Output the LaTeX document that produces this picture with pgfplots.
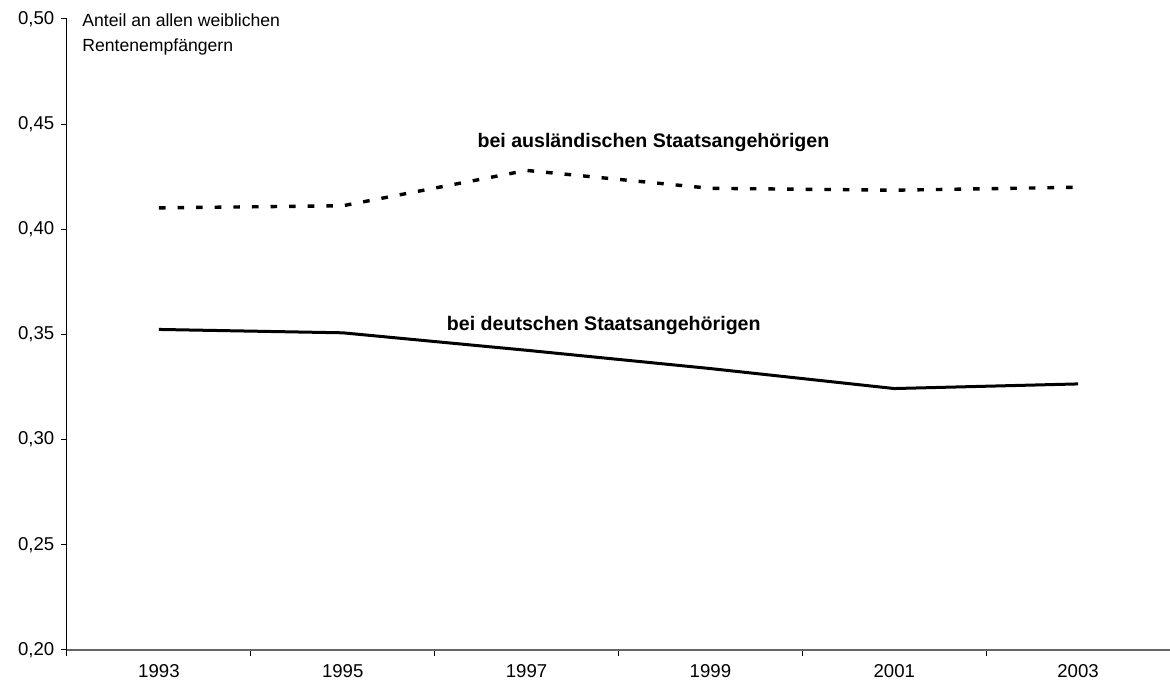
\documentclass[border=0pt]{standalone}
\usepackage{fontspec}
\setmainfont{Liberation Sans}
\usepackage{pgfplots}
\pgfplotsset{compat=1.18}

\begin{document}
\begin{tikzpicture}
\begin{axis}[
  scale only axis,
  width=551.5pt, height=315.5pt,
  xmin=-0.5, xmax=5.5,
  ymin=0.2, ymax=0.5,
  axis x line*=bottom,
  axis y line*=left,
  x axis line style={gray!80!black, line width=0.6pt},
  y axis line style={black, line width=0.5pt},
  xtick={0,...,5},
  xticklabels={1993,1995,1997,1999,2001,2003},
  major x tick style={draw=none},
  minor xtick={-0.5,0.5,...,5.5},
  minor x tick style={black, line width=0.5pt},
  minor tick length=2.8pt,
  ytick={0.2,0.25,...,0.5},
  major tick length=2.8pt,
  y tick style={black, line width=0.5pt},
  tick align=outside,
  ticklabel style={font=\fontsize{9.3}{11}\selectfont},
  yticklabel style={/pgf/number format/.cd, fixed, fixed zerofill, precision=2, use comma},
  /pgf/number format/assume math mode=true,
  xticklabel style={yshift=-1pt},
  clip=false,
]
% bei auslaendischen Staatsangehoerigen
\addplot[black, line width=1.7pt, dash pattern=on 3.3pt off 6pt] coordinates {
  (0, 0.4102) (1, 0.4112) (2, 0.4280) (3, 0.4195) (4, 0.4186) (5, 0.4200)
};
% bei deutschen Staatsangehoerigen
\addplot[black, line width=1.5pt] coordinates {
  (0, 0.3524) (1, 0.3508) (2, 0.3425) (3, 0.3338) (4, 0.3243) (5, 0.3265)
};
\node[font=\fontsize{9.8}{11}\selectfont\bfseries] at (axis cs:2.69,0.4415) {bei ausländischen Staatsangehörigen};
\node[font=\fontsize{9.8}{11}\selectfont\bfseries] at (axis cs:2.42,0.3545) {bei deutschen Staatsangehörigen};
\node[anchor=north west, align=left, font=\fontsize{8.8}{12.5}\selectfont, inner sep=0pt]
  at ([xshift=7.5pt, yshift=3pt]rel axis cs:0,1) {Anteil an allen weiblichen\\Rentenempfängern};
\end{axis}
\pgfresetboundingbox
\path ([xshift=-33.5pt, yshift=-19.5pt]current axis.south west) rectangle ([yshift=9.5pt]current axis.north east);
\end{tikzpicture}
\end{document}
